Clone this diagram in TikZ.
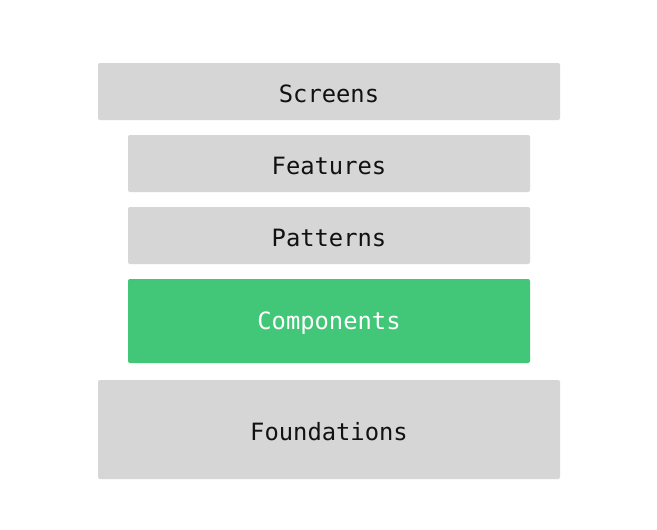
\documentclass[tikz,border=0pt]{standalone}
\usepackage{fontspec}
\newfontfamily\monofont{DejaVu Sans Mono}
\definecolor{layergray}{HTML}{D6D6D6}
\definecolor{layergreen}{HTML}{41C777}
\definecolor{txtdark}{HTML}{111111}
\begin{document}
\begin{tikzpicture}[x=1pt,y=-1pt,
  layer/.style={fill=layergray, draw=none, rounded corners=2pt, inner sep=0pt, outer sep=0pt},
  layertext/.style={font=\monofont\fontsize{23.8}{28}\selectfont, text=txtdark, inner sep=0pt},
]
\useasboundingbox[fill=white] (0,0) rectangle (657,530);
\fill[layer] (98,63) rectangle (560,120);
\fill[layer] (128,135) rectangle (530,192);
\fill[layer] (128,207) rectangle (530,264);
\fill[layer, fill=layergreen] (128,279) rectangle (530,363);
\fill[layer] (98,380) rectangle (560,479);
\node[layertext] (screens) at (329,93.5) {Screens};
\node[layertext] (features) at (329,165.5) {Features};
\node[layertext] (patterns) at (329,237.5) {Patterns};
\node[layertext, text=white] (components) at (329,323) {Components};
\node[layertext] (foundations) at (329,432) {Foundations};
\end{tikzpicture}
\end{document}
